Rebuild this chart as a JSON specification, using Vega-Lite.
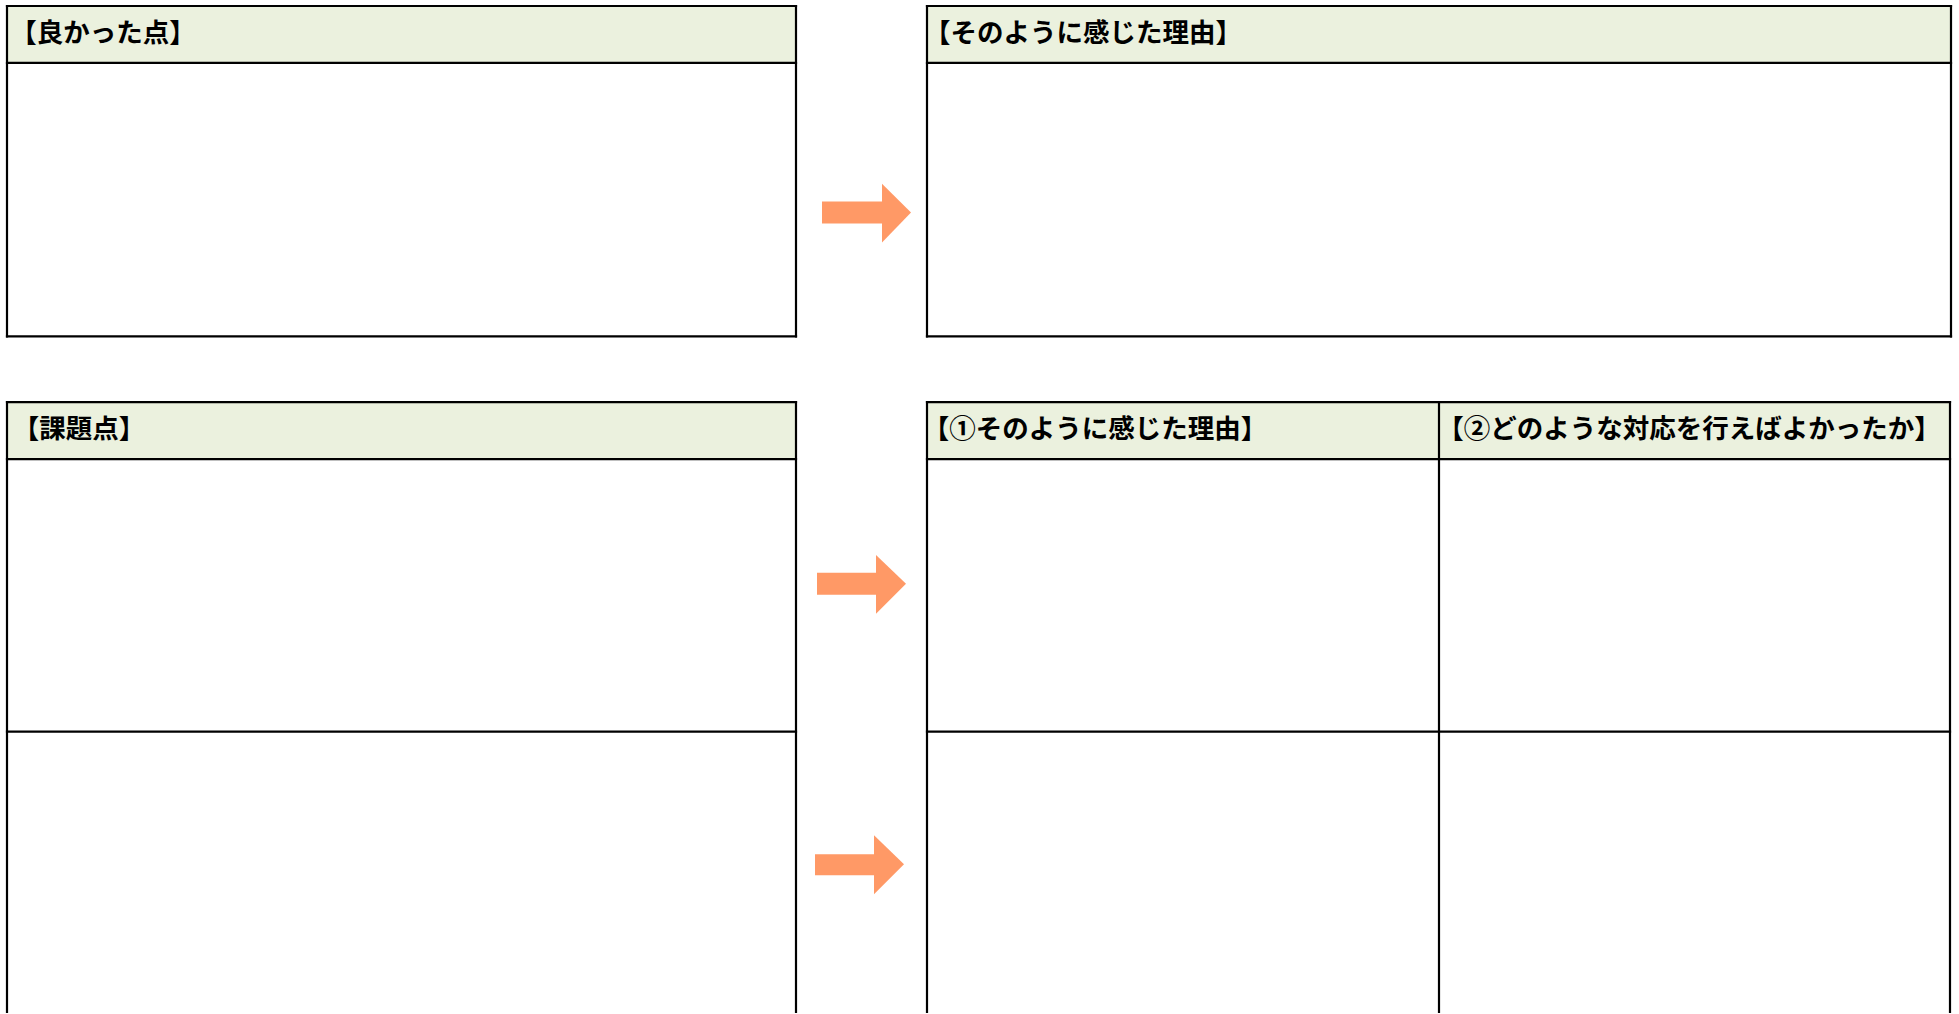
{
  "$schema": "https://vega.github.io/schema/vega-lite/v6.json",
  "width": 1959,
  "height": 1014,
  "autosize": {"type": "fit", "contains": "padding"},
  "padding": 0,
  "background": "#ffffff",
  "config": {"view": {"stroke": null}},
  "datasets": {
    "fills": [
      {"x1": 7, "x2": 796, "y1": 6, "y2": 63},
      {"x1": 927, "x2": 1951, "y1": 6, "y2": 63},
      {"x1": 7, "x2": 796, "y1": 403, "y2": 460},
      {"x1": 927, "x2": 1950, "y1": 403, "y2": 460}
    ],
    "lines": [
      {"x1": 7, "y1": 6, "x2": 796, "y2": 6},
      {"x1": 7, "y1": 63, "x2": 796, "y2": 63},
      {"x1": 7, "y1": 337, "x2": 796, "y2": 337},
      {"x1": 7, "y1": 6, "x2": 7, "y2": 337},
      {"x1": 796, "y1": 6, "x2": 796, "y2": 337},
      {"x1": 927, "y1": 6, "x2": 1951, "y2": 6},
      {"x1": 927, "y1": 63, "x2": 1951, "y2": 63},
      {"x1": 927, "y1": 337, "x2": 1951, "y2": 337},
      {"x1": 927, "y1": 6, "x2": 927, "y2": 337},
      {"x1": 1951, "y1": 6, "x2": 1951, "y2": 337},
      {"x1": 7, "y1": 403, "x2": 796, "y2": 403},
      {"x1": 7, "y1": 460, "x2": 796, "y2": 460},
      {"x1": 7, "y1": 733, "x2": 796, "y2": 733},
      {"x1": 7, "y1": 403, "x2": 7, "y2": 1014},
      {"x1": 796, "y1": 403, "x2": 796, "y2": 1014},
      {"x1": 927, "y1": 403, "x2": 1950, "y2": 403},
      {"x1": 927, "y1": 460, "x2": 1950, "y2": 460},
      {"x1": 927, "y1": 733, "x2": 1950, "y2": 733},
      {"x1": 927, "y1": 403, "x2": 927, "y2": 1014},
      {"x1": 1439, "y1": 403, "x2": 1439, "y2": 1014},
      {"x1": 1950, "y1": 403, "x2": 1950, "y2": 1014}
    ],
    "shafts": [
      {"x1": 822, "x2": 883, "y1": 202, "y2": 224},
      {"x1": 817, "x2": 877, "y1": 574, "y2": 596},
      {"x1": 815, "x2": 875, "y1": 856, "y2": 877}
    ],
    "heads": [
      {"arrow": "a1", "x": 882, "top": 184, "bottom": 243},
      {"arrow": "a1", "x": 911, "top": 213, "bottom": 213},
      {"arrow": "a2", "x": 876, "top": 556, "bottom": 615},
      {"arrow": "a2", "x": 906, "top": 585, "bottom": 585},
      {"arrow": "a3", "x": 874, "top": 837, "bottom": 896},
      {"arrow": "a3", "x": 904, "top": 866, "bottom": 866}
    ],
    "titles": [
      {"label": "【良かった点】", "x": 103, "y": 34},
      {"label": "【そのように感じた理由】", "x": 1083, "y": 34},
      {"label": "【課題点】", "x": 79, "y": 431},
      {"label": "【①そのように感じた理由】", "x": 1095, "y": 431},
      {"label": "【②どのような対応を行えばよかったか】", "x": 1689, "y": 431}
    ]
  },
  "layer": [
    {
      "data": {"name": "fills"},
      "mark": {"type": "rect", "color": "#EBF1DE"},
      "encoding": {
        "x": {"field": "x1", "type": "quantitative", "scale": {"domain": [0, 1959], "nice": false, "zero": false}, "axis": null},
        "x2": {"field": "x2"},
        "y": {"field": "y1", "type": "quantitative", "scale": {"domain": [0, 1014], "nice": false, "zero": false, "reverse": true}, "axis": null},
        "y2": {"field": "y2"}
      }
    },
    {
      "data": {"name": "shafts"},
      "mark": {"type": "rect", "color": "#FF9966"},
      "encoding": {
        "x": {"field": "x1", "type": "quantitative", "scale": {"domain": [0, 1959], "nice": false, "zero": false}, "axis": null},
        "x2": {"field": "x2"},
        "y": {"field": "y1", "type": "quantitative", "scale": {"domain": [0, 1014], "nice": false, "zero": false, "reverse": true}, "axis": null},
        "y2": {"field": "y2"}
      }
    },
    {
      "data": {"name": "heads"},
      "mark": {"type": "area", "color": "#FF9966", "opacity": 1, "interpolate": "linear"},
      "encoding": {
        "x": {"field": "x", "type": "quantitative", "scale": {"domain": [0, 1959], "nice": false, "zero": false}, "axis": null},
        "y": {"field": "top", "type": "quantitative", "stack": null, "scale": {"domain": [0, 1014], "nice": false, "zero": false, "reverse": true}, "axis": null},
        "y2": {"field": "bottom"},
        "detail": {"field": "arrow", "type": "nominal"}
      }
    },
    {
      "data": {"name": "lines"},
      "mark": {"type": "rule", "color": "#000000", "strokeWidth": 2.2, "strokeCap": "square"},
      "encoding": {
        "x": {"field": "x1", "type": "quantitative", "scale": {"domain": [0, 1959], "nice": false, "zero": false}, "axis": null},
        "x2": {"field": "x2"},
        "y": {"field": "y1", "type": "quantitative", "scale": {"domain": [0, 1014], "nice": false, "zero": false, "reverse": true}, "axis": null},
        "y2": {"field": "y2"}
      }
    },
    {
      "data": {"name": "titles"},
      "mark": {"type": "text", "font": "Noto Sans CJK JP", "fontWeight": "bold", "fontSize": 26.5, "align": "center", "baseline": "middle", "color": "#000000"},
      "encoding": {
        "x": {"field": "x", "type": "quantitative", "scale": {"domain": [0, 1959], "nice": false, "zero": false}, "axis": null},
        "y": {"field": "y", "type": "quantitative", "scale": {"domain": [0, 1014], "nice": false, "zero": false, "reverse": true}, "axis": null},
        "text": {"field": "label", "type": "nominal"}
      }
    }
  ]
}
